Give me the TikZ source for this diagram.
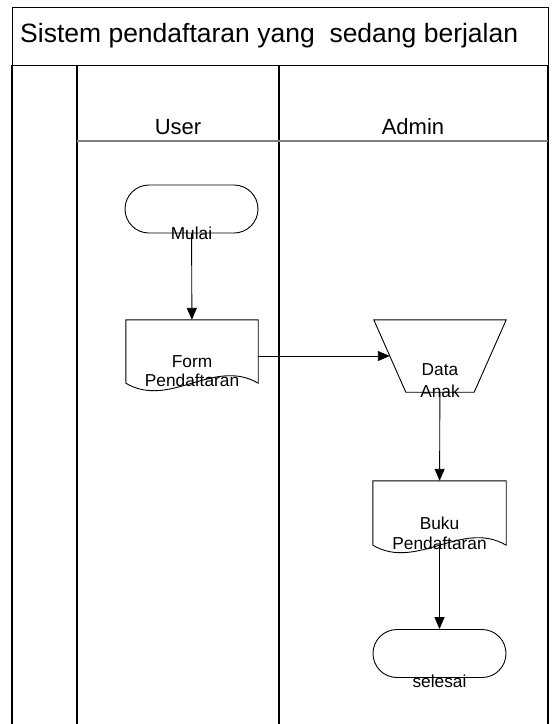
\documentclass[tikz,border=0pt]{standalone}
\usepackage{fontspec}
\setmainfont{Liberation Sans}
\usetikzlibrary{shapes.misc,arrows.meta,calc}
\begin{document}
\begin{tikzpicture}[x=1pt,y=-1pt,
  frame/.style={line width=1.2pt,draw=black},
  shp/.style={draw=black,line width=0.9pt},
  term/.style={shp,rounded rectangle,minimum width=133pt,minimum height=48pt,inner sep=0pt},
  docbox/.style={minimum width=132pt,minimum height=63pt,inner sep=0pt},
  lbl/.style={font=\fontsize{17.3}{19}\selectfont,align=center,inner sep=0pt},
  hdr/.style={font=\fontsize{22}{24}\selectfont,inner sep=0pt,anchor=base},
  arr/.style={line width=0.9pt,-{Triangle[length=12pt,width=10pt]}},
]
\useasboundingbox (0,0) rectangle (553,724);
% frame
\node[frame,minimum width=536pt,minimum height=58pt,inner sep=0pt,anchor=north west] (title) at (12,7) {};
\node[font=\fontsize{26.5}{28}\selectfont,inner sep=0pt,anchor=base west] (ttext) at (20,42) {Sistem pendaftaran yang\ \ sedang berjalan};
\draw[frame] (12,65) -- (12,724);
\draw[frame] (77,65) -- (77,724);
\draw[frame] (279,65) -- (279,724);
\draw[frame] (548,65) -- (548,724);
\draw[draw=gray,line width=1.4pt] (77,141) -- (548,141);
\node[hdr] (user) at (178,134) {User};
\node[hdr] (admin) at (413,134) {Admin};
% shapes
\node[term] (mulai) at (191.5,209) {};
\node[lbl] (tmulai) at (mulai.south) {Mulai};
\node[docbox] (form) at (192,351.5) {};
\draw[shp] (form.south west) -- (form.north west) -- (form.north east) -- (form.south east)
  .. controls +(-44,-26) and +(44,26) .. (form.south west);
\node[lbl] (tform) at ($(form.center)+(0,20)$) {Form\\Pendaftaran};
\node[minimum width=132pt,minimum height=72pt,inner sep=0pt] (data) at (440,356) {};
\draw[shp] (data.north west) -- (data.north east) -- ($(data.south east)+(-32,0)$)
  -- ($(data.south west)+(32,0)$) -- cycle;
\node[lbl,font=\fontsize{17.3}{22}\selectfont] (tdata) at ($(data.center)+(0,25)$) {Data\\Anak};
\node[docbox,minimum width=133pt,minimum height=64pt] (buku) at (439.5,513) {};
\draw[shp] (buku.south west) -- (buku.north west) -- (buku.north east) -- (buku.south east)
  .. controls +(-44,-26) and +(44,26) .. (buku.south west);
\node[lbl,font=\fontsize{17.3}{20}\selectfont] (tbuku) at ($(buku.center)+(0,20)$) {Buku\\Pendaftaran};
\node[term] (selesai) at (439.5,653.5) {};
\node[lbl] (tselesai) at ($(selesai.south)+(0,3)$) {selesai};
% connectors
\draw[arr] (mulai) -- (form);
\draw[arr] (form.east |- data.center) -- ($(data.west)+(16,0)$);
\draw[arr] (data) -- (buku);
\draw[arr] (buku) -- (selesai);
\end{tikzpicture}
\end{document}
